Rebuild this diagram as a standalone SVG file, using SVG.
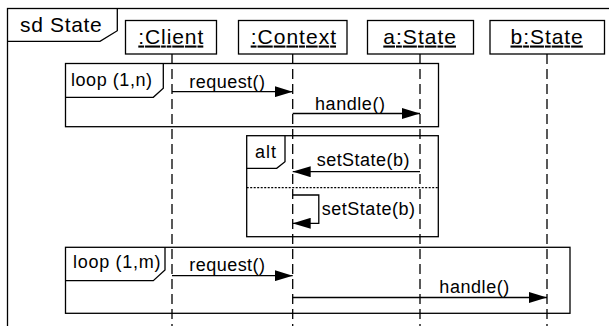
<svg xmlns="http://www.w3.org/2000/svg" width="609" height="326" viewBox="0 0 609 326">
<style>
.fr{fill:none;stroke:#000;stroke-width:1.3}
.box{fill:#fff;stroke:#000;stroke-width:1.3}
.ll{fill:none;stroke:#000;stroke-width:1.3;stroke-dasharray:10 5}
.msg{fill:none;stroke:#000;stroke-width:1.3}
.sep{fill:none;stroke:#000;stroke-width:1.2;stroke-dasharray:2 1.5}
.t{font-family:"Liberation Sans",Arial,sans-serif;fill:#000}
.big{font-size:21px}
.sm{font-size:18px}
.u{text-decoration:underline}
</style>
<defs>
<marker id="ah" markerUnits="userSpaceOnUse" markerWidth="18" markerHeight="11" refX="18" refY="5.5" orient="auto">
<path d="M0,0 L18,5.5 L0,11 Z" fill="#000"/>
</marker>
</defs>
<rect width="609" height="326" fill="#fff"/>
<g id="frame">
<rect class="fr" x="7.5" y="8.5" width="720" height="400"/>
<path class="fr" d="M7.5,41.3 H100 L117.3,30.7 V8.5"/>
<text class="t big" x="20" y="31.5" textLength="81.7" lengthAdjust="spacing">sd State</text>
</g>
<g id="client">
<line class="ll" x1="172" y1="54" x2="172" y2="330"/>
<rect class="box" x="125.5" y="20.5" width="91" height="33.5"/>
<text class="t big u" x="138.3" y="43.5" textLength="65" lengthAdjust="spacing">:Client</text>
</g>
<g id="context">
<line class="ll" x1="292.7" y1="54" x2="292.7" y2="330"/>
<rect class="box" x="238.5" y="20.5" width="108.5" height="33.5"/>
<text class="t big u" x="250.7" y="43.5" textLength="85.3" lengthAdjust="spacing">:Context</text>
</g>
<g id="astate">
<line class="ll" x1="420" y1="54" x2="420" y2="330"/>
<rect class="box" x="367.5" y="20.5" width="106" height="33.5"/>
<text class="t big u" x="383.3" y="43.5" textLength="72.7" lengthAdjust="spacing">a:State</text>
</g>
<g id="bstate">
<line class="ll" x1="547" y1="54" x2="547" y2="330"/>
<rect class="box" x="490" y="20.5" width="114.5" height="33.5"/>
<text class="t big u" x="510.5" y="43.5" textLength="72.3" lengthAdjust="spacing">b:State</text>
</g>
<g id="loop1">
<rect class="fr" x="65.5" y="63.5" width="373" height="63.2"/>
<path class="fr" d="M65.5,97.3 H153.3 L163.3,88.3 V63.5"/>
<text class="t sm" x="71" y="86" textLength="81" lengthAdjust="spacing">loop (1,n)</text>
</g>
<g id="alt">
<rect class="fr" x="246.7" y="135.7" width="191.6" height="101"/>
<path class="fr" d="M246.7,168.3 H276.7 L285,161.7 V135.7"/>
<line class="sep" x1="246.7" y1="187.7" x2="438.3" y2="187.7"/>
<text class="t sm" x="255" y="158" textLength="21" lengthAdjust="spacing">alt</text>
</g>
<g id="loop2">
<rect class="fr" x="65.5" y="247.3" width="504.5" height="66"/>
<path class="fr" d="M65.5,280.7 H153.3 L165,270 V247.3"/>
<text class="t sm" x="73" y="267.5" textLength="87.5" lengthAdjust="spacing">loop (1,m)</text>
</g>
<g id="connectors">
<line class="msg" x1="172" y1="91.7" x2="292.7" y2="91.7" marker-end="url(#ah)"/>
<text class="t sm" x="189.3" y="87.5" textLength="75.7" lengthAdjust="spacing">request()</text>
<path class="msg" d="M292.7,113.5 H420" marker-end="url(#ah)"/>
<text class="t sm" x="315" y="109.5" textLength="70" lengthAdjust="spacing">handle()</text>
<line class="msg" x1="420" y1="171.7" x2="292.7" y2="171.7" marker-end="url(#ah)"/>
<text class="t sm" x="316.7" y="166" textLength="92.7" lengthAdjust="spacing">setState(b)</text>
<path class="msg" d="M292.7,195 H318.8 V223.3 H292.7" marker-end="url(#ah)"/>
<text class="t sm" x="321.7" y="214.5" textLength="93.3" lengthAdjust="spacing">setState(b)</text>
<line class="msg" x1="172" y1="275.7" x2="292.7" y2="275.7" marker-end="url(#ah)"/>
<text class="t sm" x="189.3" y="271" textLength="75.7" lengthAdjust="spacing">request()</text>
<path class="msg" d="M292.7,297.5 H547" marker-end="url(#ah)"/>
<text class="t sm" x="439.3" y="292.5" textLength="70" lengthAdjust="spacing">handle()</text>
</g>
</svg>
